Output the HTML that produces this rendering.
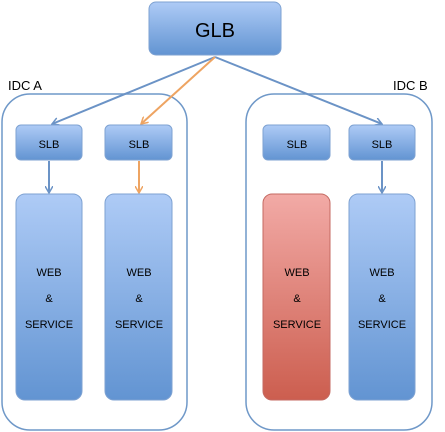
<!DOCTYPE html>
<html><head><style>body{margin:0;background:#fff}svg{display:block}text{font-family:"Liberation Sans",sans-serif;fill:#000}</style></head><body>
<svg width="445" height="432" xmlns="http://www.w3.org/2000/svg">
<defs>
<linearGradient id="b" x1="0" y1="0" x2="0" y2="1"><stop offset="0" stop-color="#aecbf6"/><stop offset="1" stop-color="#6294d2"/></linearGradient>
<linearGradient id="r" x1="0" y1="0" x2="0" y2="1"><stop offset="0" stop-color="#f2aaa6"/><stop offset="1" stop-color="#cc5e4f"/></linearGradient>
<marker id="ab" markerWidth="8" markerHeight="8" refX="7" refY="4" orient="auto" markerUnits="userSpaceOnUse"><path d="M0,0 L7,4 L0,8" fill="none" stroke="#6b93c6" stroke-width="1.5"/></marker>
<marker id="ao" markerWidth="8" markerHeight="8" refX="7" refY="4" orient="auto" markerUnits="userSpaceOnUse"><path d="M0,0 L7,4 L0,8" fill="none" stroke="#eea462" stroke-width="1.5"/></marker>
</defs>
<rect x="2" y="94" width="185" height="336" rx="28" fill="none" stroke="#6f98c8" stroke-width="1.5"/>
<rect x="246" y="94" width="186" height="336" rx="28" fill="none" stroke="#6f98c8" stroke-width="1.5"/>
<text x="8" y="90" font-size="13">IDC A</text>
<text x="393" y="90" font-size="13">IDC B</text>
<rect x="149" y="2" width="132" height="53" rx="7" fill="url(#b)" stroke="#7ea2d2"/>
<text x="215" y="37" font-size="20" text-anchor="middle">GLB</text>
<g stroke-width="2" fill="none">
<line x1="215" y1="57" x2="52" y2="124" stroke="#6b93c6" marker-end="url(#ab)"/>
<line x1="215" y1="57" x2="382" y2="124" stroke="#6b93c6" marker-end="url(#ab)"/>
<line x1="215" y1="57" x2="141" y2="124" stroke="#eea462" marker-end="url(#ao)"/>
<line x1="49" y1="161" x2="49" y2="193" stroke="#6b93c6" marker-end="url(#ab)"/>
<line x1="139" y1="161" x2="139" y2="193" stroke="#eea462" marker-end="url(#ao)"/>
<line x1="382" y1="161" x2="382" y2="193" stroke="#6b93c6" marker-end="url(#ab)"/>
</g>
<g stroke="#7ea2d2">
<rect x="16" y="125" width="66" height="35" rx="5" fill="url(#b)"/>
<rect x="105" y="125" width="67" height="35" rx="5" fill="url(#b)"/>
<rect x="263" y="125" width="67" height="35" rx="5" fill="url(#b)"/>
<rect x="349" y="125" width="66" height="35" rx="5" fill="url(#b)"/>
<rect x="16" y="194" width="66" height="206" rx="9" fill="url(#b)"/>
<rect x="105" y="194" width="67" height="206" rx="9" fill="url(#b)"/>
<rect x="263" y="194" width="67" height="206" rx="9" fill="url(#r)" stroke="#c46a62"/>
<rect x="349" y="194" width="66" height="206" rx="9" fill="url(#b)"/>
</g>
<g font-size="11" text-anchor="middle">
<text x="49" y="148">SLB</text><text x="139" y="148">SLB</text><text x="297" y="148">SLB</text><text x="382" y="148">SLB</text>
<text x="49" y="276">WEB</text><text x="49" y="302">&amp;</text><text x="49" y="328">SERVICE</text>
<text x="139" y="276">WEB</text><text x="139" y="302">&amp;</text><text x="139" y="328">SERVICE</text>
<text x="297" y="276">WEB</text><text x="297" y="302">&amp;</text><text x="297" y="328">SERVICE</text>
<text x="382" y="276">WEB</text><text x="382" y="302">&amp;</text><text x="382" y="328">SERVICE</text>
</g>
</svg>
</body></html>
